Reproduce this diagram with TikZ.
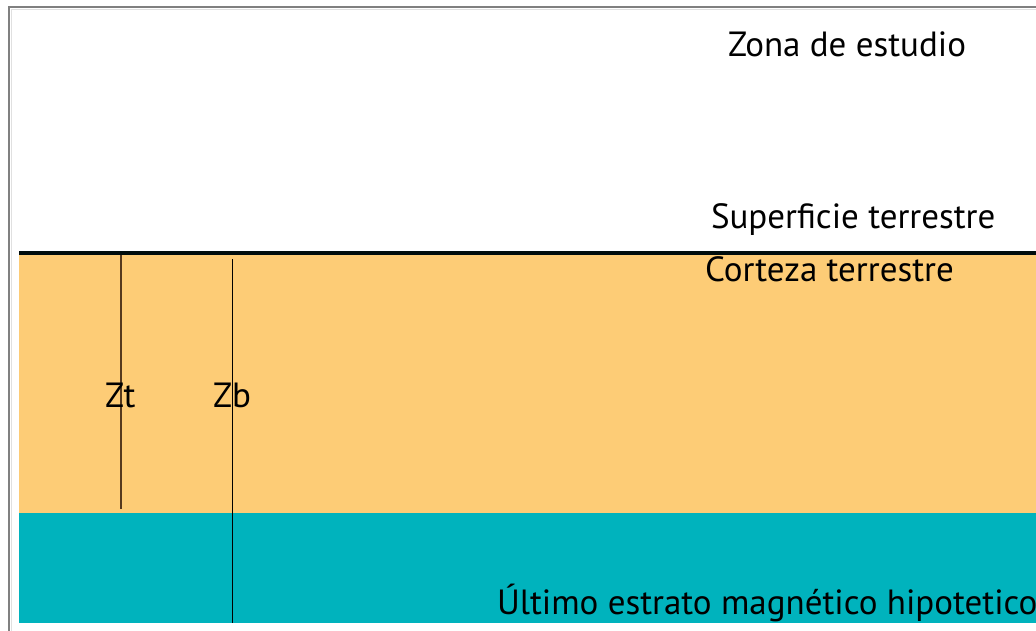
\documentclass[tikz,border=0pt]{standalone}
\usepackage{fontspec}
\setmainfont{PT Sans}
\definecolor{crust}{RGB}{253,204,118}
\definecolor{mantle}{RGB}{0,179,189}
\definecolor{frame}{RGB}{128,128,128}
\tikzset{
  lbl/.style={anchor=base west, inner sep=0pt, outer sep=0pt, text=black, font=\fontsize{35}{38}\selectfont}
}
\begin{document}
\begin{tikzpicture}[x=1pt,y=-1pt]
\useasboundingbox (0,0) rectangle (1036,631);
\fill[white] (0,0) rectangle (1036,631);
% frame
\draw[frame, line width=2pt] (9,631) -- (9,7) -- (1036,7);
\draw[black!12, line width=1.5pt] (11.5,631) -- (11.5,9.5) -- (1036,9.5);
% layers
\fill[crust] (19,254) rectangle (1036,513);
\fill[mantle] (19,513) rectangle (1036,623);
\draw[black!90!teal, line width=3.2pt] (19,253) -- (1036,253);
% depth lines
\coordinate (zt1) at (121,255);
\coordinate (zt2) at (121,509);
\coordinate (zb1) at (232,259);
\coordinate (zb2) at (232,623);
\draw[black!55!brown, line width=1.3pt] (zt1) -- (zt2);
\draw[black, line width=1pt] (zb1) -- (zb2);
% labels
\node[lbl] (zona) at (728,57) {Zona de estudio};
\node[lbl] (sup) at (711,229) {Superficie terrestre};
\node[lbl] (cort) at (705,281) {Corteza terrestre};
\node[lbl] (ult) at (497,614) {Último estrato magnético hipotetico};
\node[lbl] (zt) at (105,407) {Zt};
\node[lbl] (zb) at (213,407) {Zb};
\end{tikzpicture}
\end{document}
